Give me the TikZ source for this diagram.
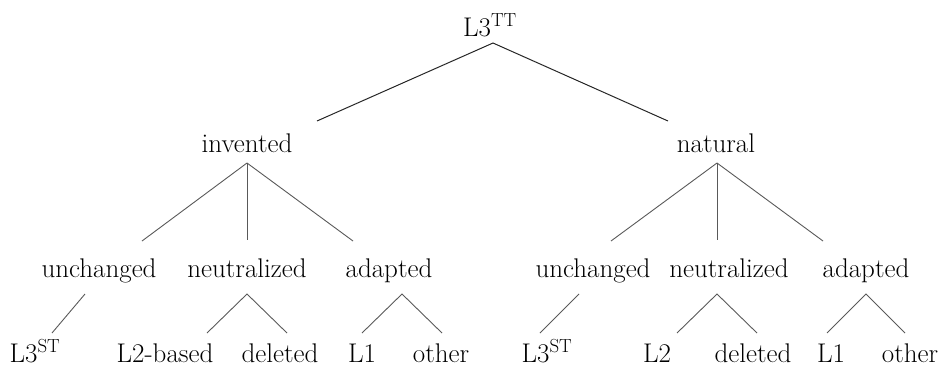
\documentclass[tikz,border=0pt]{standalone}
\tikzset{
  lab/.style={inner sep=0pt, anchor=base, font=\fontsize{27}{31}\selectfont},
  branch/.style={draw=black!65, line width=0.9pt},
  trunk/.style={draw=black!85, line width=1pt},
}
\begin{document}
\begin{tikzpicture}[x=1pt,y=-1pt]
\useasboundingbox (0,0) rectangle (943,370);
%Nodes
\node[lab] (root) at (490,36) {L3\textsuperscript{TT}};
\node[lab] (inv) at (247,152) {invented};
\node[lab] (nat) at (716,152) {natural};

\node[lab] (invunch) at (99,277) {unchanged};
\node[lab] (invneut) at (247,277) {neutralized};
\node[lab] (invadap) at (389,277) {adapted};
\node[lab] (natunch) at (593,277) {unchanged};
\node[lab] (natneut) at (729,277) {neutralized};
\node[lab] (natadap) at (866,277) {adapted};

\node[lab] (invst) at (35,362) {L3\textsuperscript{ST}};
\node[lab] (invltwo) at (165,362) {L2-based};
\node[lab] (invdel) at (280,362) {deleted};
\node[lab] (invlone) at (362,362) {L1};
\node[lab] (invoth) at (441,362) {other};
\node[lab] (natst) at (547,362) {L3\textsuperscript{ST}};
\node[lab] (natltwo) at (657,362) {L2};
\node[lab] (natdel) at (753,362) {deleted};
\node[lab] (natlone) at (831,362) {L1};
\node[lab] (natoth) at (910,362) {other};

%Lines
\draw[trunk] ([xshift=70,yshift=31]inv.base) -- ([xshift=3,yshift=-7]root.base) -- ([xshift=-48,yshift=31]nat.base);

\draw[branch] ([yshift=-11]inv.base) -- ([xshift=43,yshift=36]invunch.base);
\draw[branch] ([yshift=-11]inv.base) -- ([yshift=37]invneut.base);
\draw[branch] ([yshift=-11]inv.base) -- ([xshift=-36,yshift=36]invadap.base);
\draw[branch] ([xshift=1,yshift=-11]nat.base) -- ([xshift=18,yshift=36]natunch.base);
\draw[branch] ([xshift=1,yshift=-11]nat.base) -- ([xshift=-12,yshift=37]natneut.base);
\draw[branch] ([xshift=1,yshift=-11]nat.base) -- ([xshift=-43,yshift=36]natadap.base);

\draw[branch] ([xshift=-14,yshift=-17]invunch.base) -- ([xshift=17,yshift=29]invst.base);
\draw[branch] ([xshift=42,yshift=29]invltwo.base) -- ([yshift=-17]invneut.base) -- ([xshift=7,yshift=29]invdel.base);
\draw[branch] ([yshift=29]invlone.base) -- ([xshift=13,yshift=-17]invadap.base) -- ([xshift=1,yshift=29]invoth.base);
\draw[branch] ([xshift=-14,yshift=-17]natunch.base) -- ([xshift=-7,yshift=29]natst.base);
\draw[branch] ([xshift=20,yshift=29]natltwo.base) -- ([xshift=-12,yshift=-17]natneut.base) -- ([xshift=4,yshift=29]natdel.base);
\draw[branch] ([xshift=-4,yshift=29]natlone.base) -- ([yshift=-17]natadap.base) -- ([xshift=-5,yshift=29]natoth.base);
\end{tikzpicture}
\end{document}
